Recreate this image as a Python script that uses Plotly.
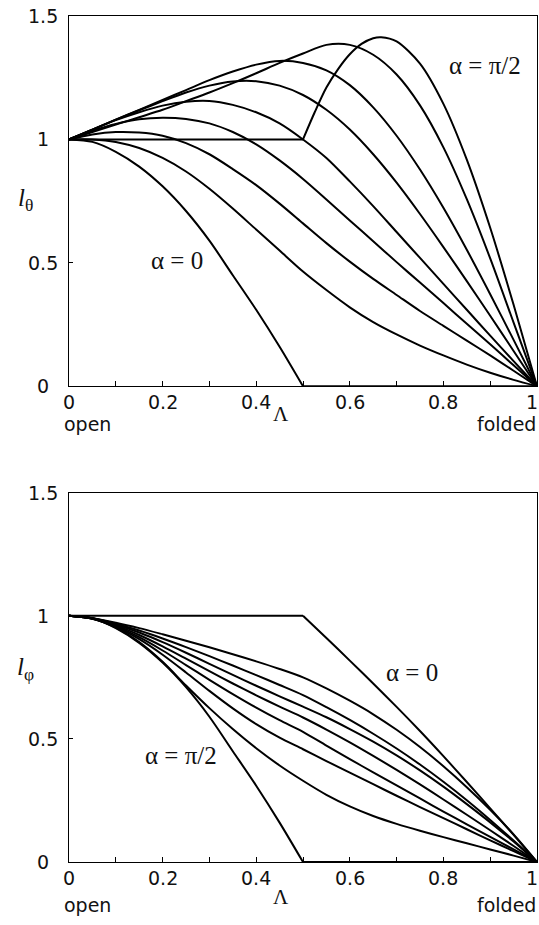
import plotly.graph_objects as go

# Fold parameter (0 = open, 1 = folded)
lam = [0.0, 0.05, 0.1, 0.15, 0.2, 0.25, 0.3, 0.35, 0.4, 0.45, 0.5,
       0.55, 0.6, 0.65, 0.7, 0.75, 0.8, 0.85, 0.9, 0.95, 1.0]

# ---- l_theta, one list per alpha = k*pi/16 ----
theta_a0 = [1.0, 0.99, 0.95, 0.89, 0.81, 0.71, 0.59, 0.45, 0.31, 0.16, 0.0,
            0.0, 0.0, 0.0, 0.0, 0.0, 0.0, 0.0, 0.0, 0.0, 0.0]
theta_a1 = [1.0, 1.0, 0.99, 0.965, 0.925, 0.87, 0.8, 0.72, 0.635, 0.55, 0.465,
            0.39, 0.32, 0.26, 0.21, 0.165, 0.125, 0.088, 0.055, 0.026, 0.0]
theta_a2 = [1.0, 1.02, 1.03, 1.028, 1.015, 0.985, 0.94, 0.88, 0.815, 0.74, 0.66,
            0.58, 0.505, 0.435, 0.37, 0.305, 0.245, 0.185, 0.125, 0.063, 0.0]
theta_a3 = [1.0, 1.035, 1.063, 1.082, 1.088, 1.083, 1.065, 1.03, 0.98, 0.915, 0.84,
            0.757, 0.672, 0.588, 0.503, 0.42, 0.337, 0.253, 0.17, 0.085, 0.0]
theta_a4 = [1.0, 1.04, 1.078, 1.11, 1.137, 1.153, 1.156, 1.14, 1.11, 1.065, 1.0,
            0.925, 0.83, 0.73, 0.625, 0.52, 0.415, 0.31, 0.205, 0.102, 0.0]
theta_a5 = [1.0, 1.04, 1.08, 1.118, 1.155, 1.19, 1.218, 1.235, 1.236, 1.218, 1.18,
            1.12, 1.04, 0.94, 0.825, 0.698, 0.564, 0.426, 0.286, 0.143, 0.0]
theta_a6 = [1.0, 1.04, 1.08, 1.12, 1.16, 1.2, 1.24, 1.275, 1.303, 1.318, 1.31,
            1.28, 1.22, 1.13, 1.015, 0.878, 0.723, 0.553, 0.373, 0.188, 0.0]
theta_a7 = [1.0, 1.03, 1.06, 1.09, 1.12, 1.155, 1.19, 1.228, 1.268, 1.31, 1.348,
            1.383, 1.383, 1.343, 1.263, 1.138, 0.968, 0.758, 0.518, 0.258, 0.0]
lam_a8 = [0.0, 0.5, 0.525, 0.55, 0.575, 0.6, 0.625, 0.65, 0.667, 0.7, 0.75,
          0.8, 0.85, 0.9, 0.95, 1.0]
theta_a8 = [1.0, 1.0, 1.11, 1.21, 1.285, 1.345, 1.387, 1.41, 1.414, 1.397, 1.307,
            1.144, 0.918, 0.642, 0.33, 0.0]

# ---- l_phi, one list per alpha = k*pi/16 ----
phi_a0 = [1.0, 1.0, 1.0, 1.0, 1.0, 1.0, 1.0, 1.0, 1.0, 1.0, 1.0,
          0.91, 0.818, 0.725, 0.63, 0.532, 0.43, 0.325, 0.218, 0.11, 0.0]
phi_a1 = [1.0, 0.99, 0.972, 0.95, 0.925, 0.899, 0.872, 0.844, 0.815, 0.784, 0.75,
          0.705, 0.655, 0.6, 0.537, 0.467, 0.389, 0.304, 0.212, 0.112, 0.0]
phi_a2 = [1.0, 0.99, 0.968, 0.94, 0.908, 0.873, 0.836, 0.798, 0.759, 0.719, 0.678,
          0.629, 0.577, 0.521, 0.461, 0.396, 0.326, 0.251, 0.171, 0.087, 0.0]
phi_a3 = [1.0, 0.99, 0.965, 0.932, 0.893, 0.85, 0.805, 0.76, 0.716, 0.673, 0.631,
          0.588, 0.54, 0.489, 0.433, 0.372, 0.306, 0.235, 0.161, 0.083, 0.0]
phi_a4 = [1.0, 0.989, 0.961, 0.922, 0.876, 0.826, 0.775, 0.725, 0.677, 0.631, 0.587,
          0.538, 0.486, 0.431, 0.374, 0.315, 0.254, 0.192, 0.129, 0.065, 0.0]
phi_a5 = [1.0, 0.989, 0.958, 0.913, 0.859, 0.8, 0.74, 0.682, 0.627, 0.576, 0.529,
          0.473, 0.418, 0.364, 0.311, 0.258, 0.205, 0.153, 0.102, 0.051, 0.0]
phi_a6 = [1.0, 0.988, 0.955, 0.905, 0.842, 0.77, 0.695, 0.624, 0.56, 0.505, 0.458,
          0.41, 0.363, 0.316, 0.269, 0.223, 0.178, 0.133, 0.088, 0.044, 0.0]
phi_a7 = [1.0, 0.988, 0.952, 0.893, 0.813, 0.717, 0.625, 0.54, 0.462, 0.392, 0.33,
          0.273, 0.226, 0.187, 0.155, 0.127, 0.101, 0.076, 0.051, 0.026, 0.0]
phi_a8 = [1.0, 0.99, 0.95, 0.89, 0.81, 0.71, 0.59, 0.45, 0.31, 0.16, 0.0,
          0.0, 0.0, 0.0, 0.0, 0.0, 0.0, 0.0, 0.0, 0.0, 0.0]

x_ticks = [0.0, 0.1, 0.2, 0.3, 0.4, 0.5, 0.6, 0.7, 0.8, 0.9, 1.0]
x_label_vals = [0.0, 0.2, 0.4, 0.6, 0.8, 1.0]
x_label_text = ["0", "0.2", "0.4", "0.6", "0.8", "1"]
y_ticks = [0.0, 0.5, 1.0, 1.5]
y_tick_text = ["0", "0.5", "1", "1.5"]

W, H = 539, 925
ML, MR, MT, MB = 69, 2, 16, 63
PW, PH = W - ML - MR, H - MT - MB


def px(xp):
    return (xp - ML) / PW


def py(yp):
    return (H - MB - yp) / PH


def split_at(xs, ys, i):
    """Break a curve into two smooth pieces joined at a corner point."""
    return xs[:i + 1] + [None] + xs[i:], ys[:i + 1] + [None] + ys[i:]


LINE = dict(color="black", width=2, shape="spline", smoothing=0.8)

fig = go.Figure()

theta_curves = [
    split_at(lam, theta_a0, 10),
    (lam, theta_a1), (lam, theta_a2), (lam, theta_a3), (lam, theta_a4),
    (lam, theta_a5), (lam, theta_a6), (lam, theta_a7),
    split_at(lam_a8, theta_a8, 1),
]
phi_curves = [
    split_at(lam, phi_a0, 10),
    (lam, phi_a1), (lam, phi_a2), (lam, phi_a3), (lam, phi_a4),
    (lam, phi_a5), (lam, phi_a6), (lam, phi_a7),
    split_at(lam, phi_a8, 10),
]

for xs, ys in theta_curves:
    fig.add_trace(go.Scatter(x=xs, y=ys, mode="lines", line=LINE,
                             connectgaps=False, xaxis="x", yaxis="y",
                             showlegend=False, hoverinfo="skip"))
for xs, ys in phi_curves:
    fig.add_trace(go.Scatter(x=xs, y=ys, mode="lines", line=LINE,
                             connectgaps=False, xaxis="x2", yaxis="y2",
                             showlegend=False, hoverinfo="skip"))

top_y0 = py(386.3)
bot_y1 = py(492.7)

SANS = "DejaVu Sans"
SERIF = "Liberation Serif"
TXT = "#111111"

xaxis_common = dict(
    range=[0, 1], showgrid=False, zeroline=False,
    showline=True, linecolor="black", linewidth=1, mirror=True,
    ticks="inside", ticklen=5, tickcolor="black", tickwidth=1,
    tickvals=x_ticks, showticklabels=False,
)
yaxis_common = dict(
    range=[0, 1.5], showgrid=False, zeroline=False,
    showline=True, linecolor="black", linewidth=1, mirror=True,
    ticks="inside", ticklen=4, tickcolor="black", tickwidth=1,
    tickvals=y_ticks, showticklabels=False,
)

fig.update_layout(
    width=W, height=H,
    margin=dict(l=ML, r=MR, t=MT, b=MB, pad=0),
    paper_bgcolor="white", plot_bgcolor="white",
    xaxis=dict(domain=[0, 1], anchor="y", **xaxis_common),
    yaxis=dict(domain=[top_y0, 1], anchor="x", **yaxis_common),
    xaxis2=dict(domain=[0, 1], anchor="y2", **xaxis_common),
    yaxis2=dict(domain=[0, bot_y1], anchor="x2", **yaxis_common),
    showlegend=False,
)

tick_font = dict(family=SANS, size=19, color=TXT)
ann = []
# y tick labels, centred in the left margin
for yref in ("y", "y2"):
    for v, t in zip(y_ticks, y_tick_text):
        ann.append(dict(text=t, xref="paper", x=px(43), xanchor="center",
                        yref=yref, y=v, yanchor="middle", showarrow=False,
                        font=tick_font))
# x tick labels under each panel; the last one is pulled inside the page
for xref, ypix in (("x", 402), ("x2", 878)):
    for v, t in zip(x_label_vals, x_label_text):
        ann.append(dict(text=t, xref=xref, x=v, xanchor="center",
                        xshift=-5 if v == 1.0 else 0,
                        yref="paper", y=py(ypix), yanchor="middle",
                        showarrow=False, font=tick_font))

serif = dict(family=SERIF, size=25, color=TXT)
sans = dict(family=SANS, size=19, color=TXT)
n_fixed = len(ann)

ann += [
    dict(text="α = π/2", x=px(485), y=py(65), font=serif),
    dict(text="α = 0", x=px(177), y=py(260), font=serif),
    dict(text="α = 0", x=px(412), y=py(672), font=serif),
    dict(text="α = π/2", x=px(181), y=py(755), font=serif),
    dict(text="<i>l</i><sub>θ</sub>", x=px(25), y=py(200),
         font=dict(family=SERIF, size=25, color=TXT)),
    dict(text="<i>l</i><sub>φ</sub>", x=px(25), y=py(668),
         font=dict(family=SERIF, size=25, color=TXT)),
    dict(text="Λ", x=px(281), y=py(414), font=dict(family=SERIF, size=21, color=TXT)),
    dict(text="Λ", x=px(281), y=py(897), font=dict(family=SERIF, size=21, color=TXT)),
    dict(text="open", x=px(62), y=py(424), xanchor="left", font=sans),
    dict(text="open", x=px(62), y=py(905), xanchor="left", font=sans),
    dict(text="folded", x=px(538), y=py(424), xanchor="right", font=sans),
    dict(text="folded", x=px(538), y=py(905), xanchor="right", font=sans),
]
for a in ann[n_fixed:]:
    a.setdefault("xanchor", "center")
    a.update(xref="paper", yref="paper", yanchor="middle", showarrow=False)

fig.update_layout(annotations=ann)

fig.write_html("out.html")
